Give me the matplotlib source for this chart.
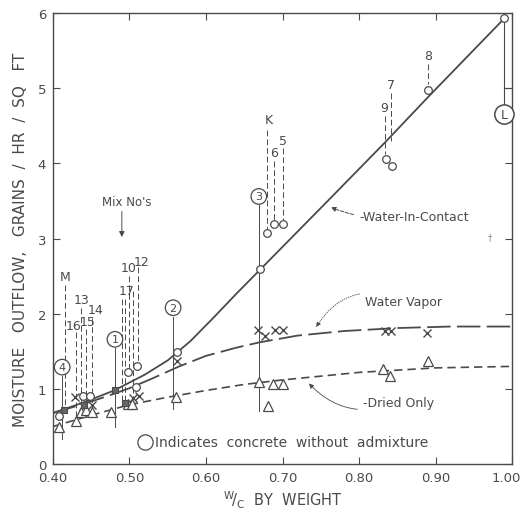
import matplotlib.pyplot as plt
from matplotlib.transforms import ScaledTranslation

# measured outflow, grains / hr / sq ft, against water-cement ratio
contact_x = [0.408, 0.439, 0.448, 0.498, 0.508, 0.510, 0.562, 0.671, 0.680, 0.689, 0.700, 0.835, 0.843, 0.890, 0.990]
contact_y = [0.64, 0.90, 0.90, 1.22, 1.02, 1.31, 1.49, 2.59, 3.08, 3.20, 3.20, 4.06, 3.96, 4.98, 5.93]

vapor_x = [0.429, 0.439, 0.451, 0.505, 0.512, 0.562, 0.668, 0.677, 0.690, 0.700, 0.834, 0.842, 0.889]
vapor_y = [0.89, 0.77, 0.78, 0.88, 0.90, 1.37, 1.78, 1.70, 1.78, 1.78, 1.77, 1.77, 1.75]

dried_x = [0.408, 0.430, 0.436, 0.443, 0.451, 0.476, 0.498, 0.503, 0.561, 0.669, 0.681, 0.688, 0.700, 0.831, 0.840, 0.890]
dried_y = [0.49, 0.58, 0.69, 0.72, 0.69, 0.69, 0.80, 0.80, 0.89, 1.09, 0.77, 1.06, 1.06, 1.27, 1.17, 1.37]

# places where several symbols print on top of each other
overlap_x = [0.415, 0.440, 0.481, 0.494]
overlap_y = [0.72, 0.79, 0.99, 0.81]

# fitted curves
fit_contact_x = [0.40, 0.44, 0.48, 0.52, 0.55, 0.58, 0.61, 0.64, 0.671, 0.76, 0.835, 0.89, 0.99]
fit_contact_y = [0.68, 0.82, 0.98, 1.19, 1.38, 1.64, 1.95, 2.27, 2.59, 3.51, 4.29, 4.88, 5.93]
fit_vapor_x = [0.40, 0.44, 0.47, 0.50, 0.53, 0.565, 0.60, 0.64, 0.67, 0.72, 0.78, 0.85, 0.92, 1.00]
fit_vapor_y = [0.68, 0.80, 0.90, 1.01, 1.14, 1.30, 1.44, 1.55, 1.62, 1.71, 1.77, 1.81, 1.83, 1.83]
fit_dried_x = [0.40, 0.45, 0.50, 0.55, 0.60, 0.65, 0.70, 0.80, 0.90, 1.00]
fit_dried_y = [0.50, 0.65, 0.79, 0.89, 0.98, 1.06, 1.12, 1.22, 1.28, 1.30]

# mixes without admixture (circled) : label, x, y, bottom of leader
plain_mix = [("4", 0.412, 1.29, 0.33), ("1", 0.481, 1.66, 0.50),
             ("2", 0.557, 2.08, 0.73), ("3", 0.669, 3.56, 0.70)]
# numbered mixes with dashed leaders : label, label x, label y, line x, top, bottom
num_mix = [("M", 0.416, 2.50, 0.416, 2.38, 0.72), ("16", 0.427, 1.85, 0.430, 1.76, 0.62),
           ("13", 0.437, 2.19, 0.436, 2.08, 0.72), ("15", 0.445, 1.90, 0.443, 1.80, 0.75),
           ("14", 0.455, 2.05, 0.451, 1.95, 0.72), ("17", 0.496, 2.31, 0.494, 2.20, 0.83),
           ("10", 0.499, 2.62, 0.500, 2.50, 1.25), ("12", 0.516, 2.70, 0.511, 2.62, 1.33),
           ("K", 0.682, 4.58, 0.680, 4.45, 3.13), ("6", 0.689, 4.14, 0.689, 4.03, 3.25),
           ("5", 0.701, 4.30, 0.700, 4.20, 3.25), ("9", 0.833, 4.75, 0.834, 4.63, 4.12),
           ("7", 0.842, 5.05, 0.842, 4.93, 4.30), ("8", 0.890, 5.44, 0.890, 5.32, 5.05)]
extra_leaders = [(0.490, 2.20, 0.85), (0.505, 2.30, 0.88)]

xticks = [0.40, 0.50, 0.60, 0.70, 0.80, 0.90, 1.00]
yticks = [0, 1, 2, 3, 4, 5, 6]

ink = "#4a4a4a"
plt.rcParams['font.family'] = ['DejaVu Sans']

fig = plt.figure(figsize=(5.22, 5.10), dpi=100)
ax = fig.add_axes([0.1015, 0.088, 0.8795, 0.8845])
ax.set_xlim(0.40, 1.00)
ax.set_ylim(0, 6)

ax.plot(fit_contact_x, fit_contact_y, color=ink, lw=1.3)
ax.plot(fit_vapor_x, fit_vapor_y, color=ink, lw=1.3, linestyle=(0, (13, 3.5)))
ax.plot(fit_dried_x, fit_dried_y, color=ink, lw=1.2, linestyle=(0, (5, 3)))

# leaders for each mix
for lab, x, y, bot in plain_mix:
    ax.plot([x, x], [y - 0.12, bot], color=ink, lw=0.7)
    ax.text(x, y, lab, ha="center", va="center", fontsize=8, color=ink,
            bbox=dict(boxstyle="circle,pad=0.25", fc="white", ec=ink, lw=0.9))
for lab, lx, ly, x, top, bot in num_mix:
    ax.plot([x, x], [top, bot], color=ink, lw=0.7, linestyle=(0, (6, 3)))
    ax.text(lx, ly, lab, ha="center", va="center", fontsize=9, color=ink)
for x, top, bot in extra_leaders:
    ax.plot([x, x], [top, bot], color=ink, lw=0.7, linestyle=(0, (6, 3)))

# mix L at the far right
ax.plot([0.990, 0.990], [5.88, 4.78], color=ink, lw=0.8)
ax.plot([0.990, 1.000], [5.00, 5.00], color=ink, lw=0.8)
ax.text(0.990, 4.65, "L", ha="center", va="center", fontsize=9, color=ink,
        bbox=dict(boxstyle="circle,pad=0.25", fc="white", ec=ink, lw=1.1))

ax.plot(contact_x, contact_y, "o", ms=5.5, mfc="white", mec=ink, mew=0.9, ls="none")
ax.plot(vapor_x, vapor_y, "x", ms=6, mec=ink, mew=1.0, ls="none")
ax.plot(dried_x, dried_y, "^", ms=7, mfc="white", mec=ink, mew=0.9, ls="none")
ax.plot(overlap_x, overlap_y, "s", ms=5, mfc="#666666", mec=ink, mew=0.8, ls="none")

# curve names with curved pointers
ax.annotate("-Water-In-Contact", xy=(0.760, 3.43), xytext=(0.800, 3.30),
            fontsize=9, color=ink, va="center",
            arrowprops=dict(arrowstyle="-|>", color=ink, lw=0.7, ls="--",
                            connectionstyle="arc3,rad=-0.15", mutation_scale=7))
ax.annotate("Water Vapor", xy=(0.742, 1.79), xytext=(0.808, 2.16),
            fontsize=9, color=ink, va="center",
            arrowprops=dict(arrowstyle="-|>", color=ink, lw=0.6, ls=":",
                            connectionstyle="arc3,rad=0.45", mutation_scale=7))
ax.annotate("-Dried Only", xy=(0.732, 1.10), xytext=(0.805, 0.82),
            fontsize=9, color=ink, va="center",
            arrowprops=dict(arrowstyle="-|>", color=ink, lw=0.6,
                            connectionstyle="arc3,rad=-0.35", mutation_scale=7))
ax.text(0.497, 3.49, "Mix No's", fontsize=8.5, color=ink, ha="center", va="center")
ax.annotate("", xy=(0.490, 3.02), xytext=(0.490, 3.36),
            arrowprops=dict(arrowstyle="-|>", color=ink, lw=0.7, mutation_scale=8,
                            shrinkA=0, shrinkB=0))

ax.plot([0.520], [0.29], "o", ms=11, mfc="white", mec=ink, mew=0.9)
ax.text(0.533, 0.29, "Indicates  concrete  without  admixture", fontsize=10,
        color=ink, va="center")
ax.text(0.971, 3.03, "†", fontsize=6, color="#888888", ha="center", va="center")

ax.set_xticks(xticks)
ax.set_xticklabels(["%.2f" % v for v in xticks])
ax.set_yticks(yticks)
ax.tick_params(direction="in", length=5, width=0.8, color=ink, labelcolor=ink,
               labelsize=9.5, top=True, right=True, pad=5)
ax.tick_params(axis="x", labeltop=False)
# keep the last x label inside the canvas
last = ax.get_xticklabels()[-1]
last.set_transform(last.get_transform() + ScaledTranslation(-4 / 72, 0, fig.dpi_scale_trans))
for sp in ax.spines.values():
    sp.set_color(ink)
    sp.set_linewidth(1.0)

ax.set_ylabel("MOISTURE   OUTFLOW,   GRAINS  /  HR  /  SQ   FT", fontsize=11, color=ink, labelpad=7)
ax.set_xlabel(r"$^{\mathrm{W}}\!/_{\mathrm{C}}$  BY  WEIGHT", fontsize=10.5, color=ink, labelpad=3)

fig.savefig("out.png", dpi=100)
